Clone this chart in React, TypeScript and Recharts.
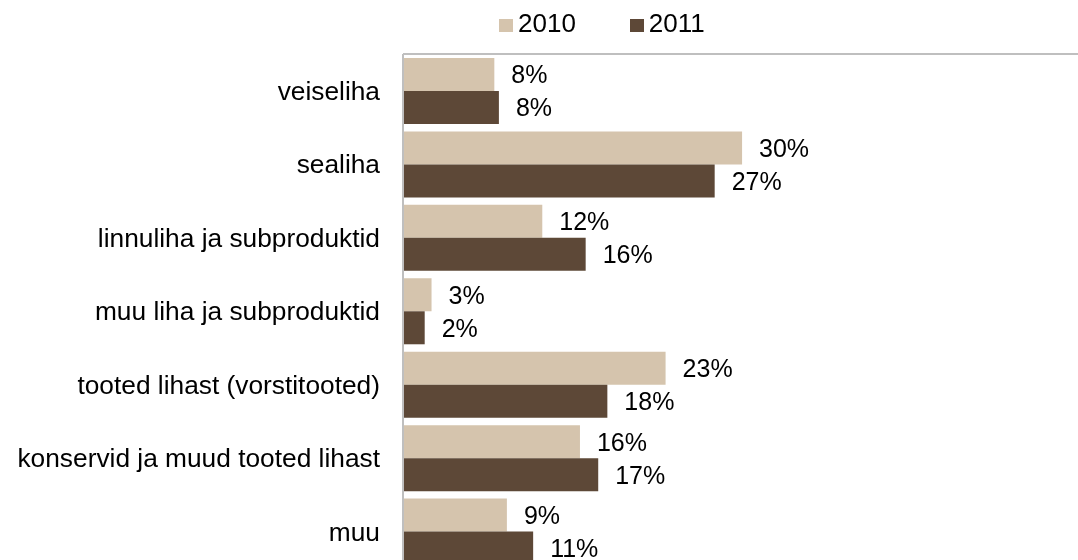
import React from "react";
import { BarChart, Bar, XAxis, YAxis, Legend, LabelList } from "recharts";

const categories = [
  "veiseliha",
  "sealiha",
  "linnuliha ja subproduktid",
  "muu liha ja subproduktid",
  "tooted lihast (vorstitooted)",
  "konservid ja muud tooted lihast",
  "muu",
];
const share2010 = [8.0, 29.7, 12.2, 2.5, 23.0, 15.5, 9.1];
const share2011 = [8.4, 27.3, 16.0, 1.9, 17.9, 17.1, 11.4];
const seriesNames = ["2010", "2011"];

const COLOR_2010 = "#d5c4ad";
const COLOR_2011 = "#5d4837";
const AXIS_GREY = "#bfbfbf";
const FONT = "'Liberation Sans', Arial, sans-serif";

const data = categories.map((name, i) => ({
  name,
  y2010: share2010[i],
  y2011: share2011[i],
}));

function LegendContent({ payload }: { payload?: { value: string; color: string }[] }) {
  if (!payload) return null;
  return (
    <div style={{ fontSize: 26, fontFamily: FONT, color: "#000", whiteSpace: "nowrap" }}>
      {payload.map((p, i) => (
        <span key={p.value} style={{ marginRight: i === 0 ? 54 : 0 }}>
          <span
            style={{
              display: "inline-block",
              width: 14,
              height: 13,
              background: p.color,
              marginRight: 5,
            }}
          />
          {p.value}
        </span>
      ))}
    </div>
  );
}

const pct = (v: unknown) => `${Math.round(Number(v))}%`;

export default function App() {
  // fixed so the chart can run past the window edge (as the reference is cropped) without scrollbars
  return (
    <div
      style={{
        position: "fixed",
        left: 8,
        top: 8,
        width: 1070,
        height: 552,
        overflow: "hidden",
        fontFamily: FONT,
      }}
    >
      <BarChart
        width={1080}
        height={570}
        data={data}
        layout="vertical"
        margin={{ top: 15, right: 0, bottom: 10, left: 0 }}
        barGap={0}
        barSize={33}
      >
        {/* top border of the plot area */}
        <XAxis
          type="number"
          orientation="top"
          domain={[0, 60]}
          height={1}
          tick={false}
          tickLine={false}
          axisLine={{ stroke: AXIS_GREY, strokeWidth: 2 }}
        />
        <YAxis
          type="category"
          dataKey="name"
          width={395}
          tickLine={false}
          tickSize={0}
          tickMargin={23}
          axisLine={{ stroke: AXIS_GREY, strokeWidth: 2 }}
          tick={{ fill: "#000", fontSize: 26.3, fontFamily: FONT }}
        />
        <Legend
          verticalAlign="top"
          content={<LegendContent />}
          wrapperStyle={{ top: 0, left: 491, width: "auto", height: 30 }}
        />
        <Bar dataKey="y2010" name={seriesNames[0]} fill={COLOR_2010} isAnimationActive={false}>
          <LabelList
            dataKey="y2010"
            position="right"
            offset={17}
            formatter={pct}
            fill="#000"
            fontSize={25}
            fontFamily={FONT}
          />
        </Bar>
        <Bar dataKey="y2011" name={seriesNames[1]} fill={COLOR_2011} isAnimationActive={false}>
          <LabelList
            dataKey="y2011"
            position="right"
            offset={17}
            formatter={pct}
            fill="#000"
            fontSize={25}
            fontFamily={FONT}
          />
        </Bar>
      </BarChart>
    </div>
  );
}
